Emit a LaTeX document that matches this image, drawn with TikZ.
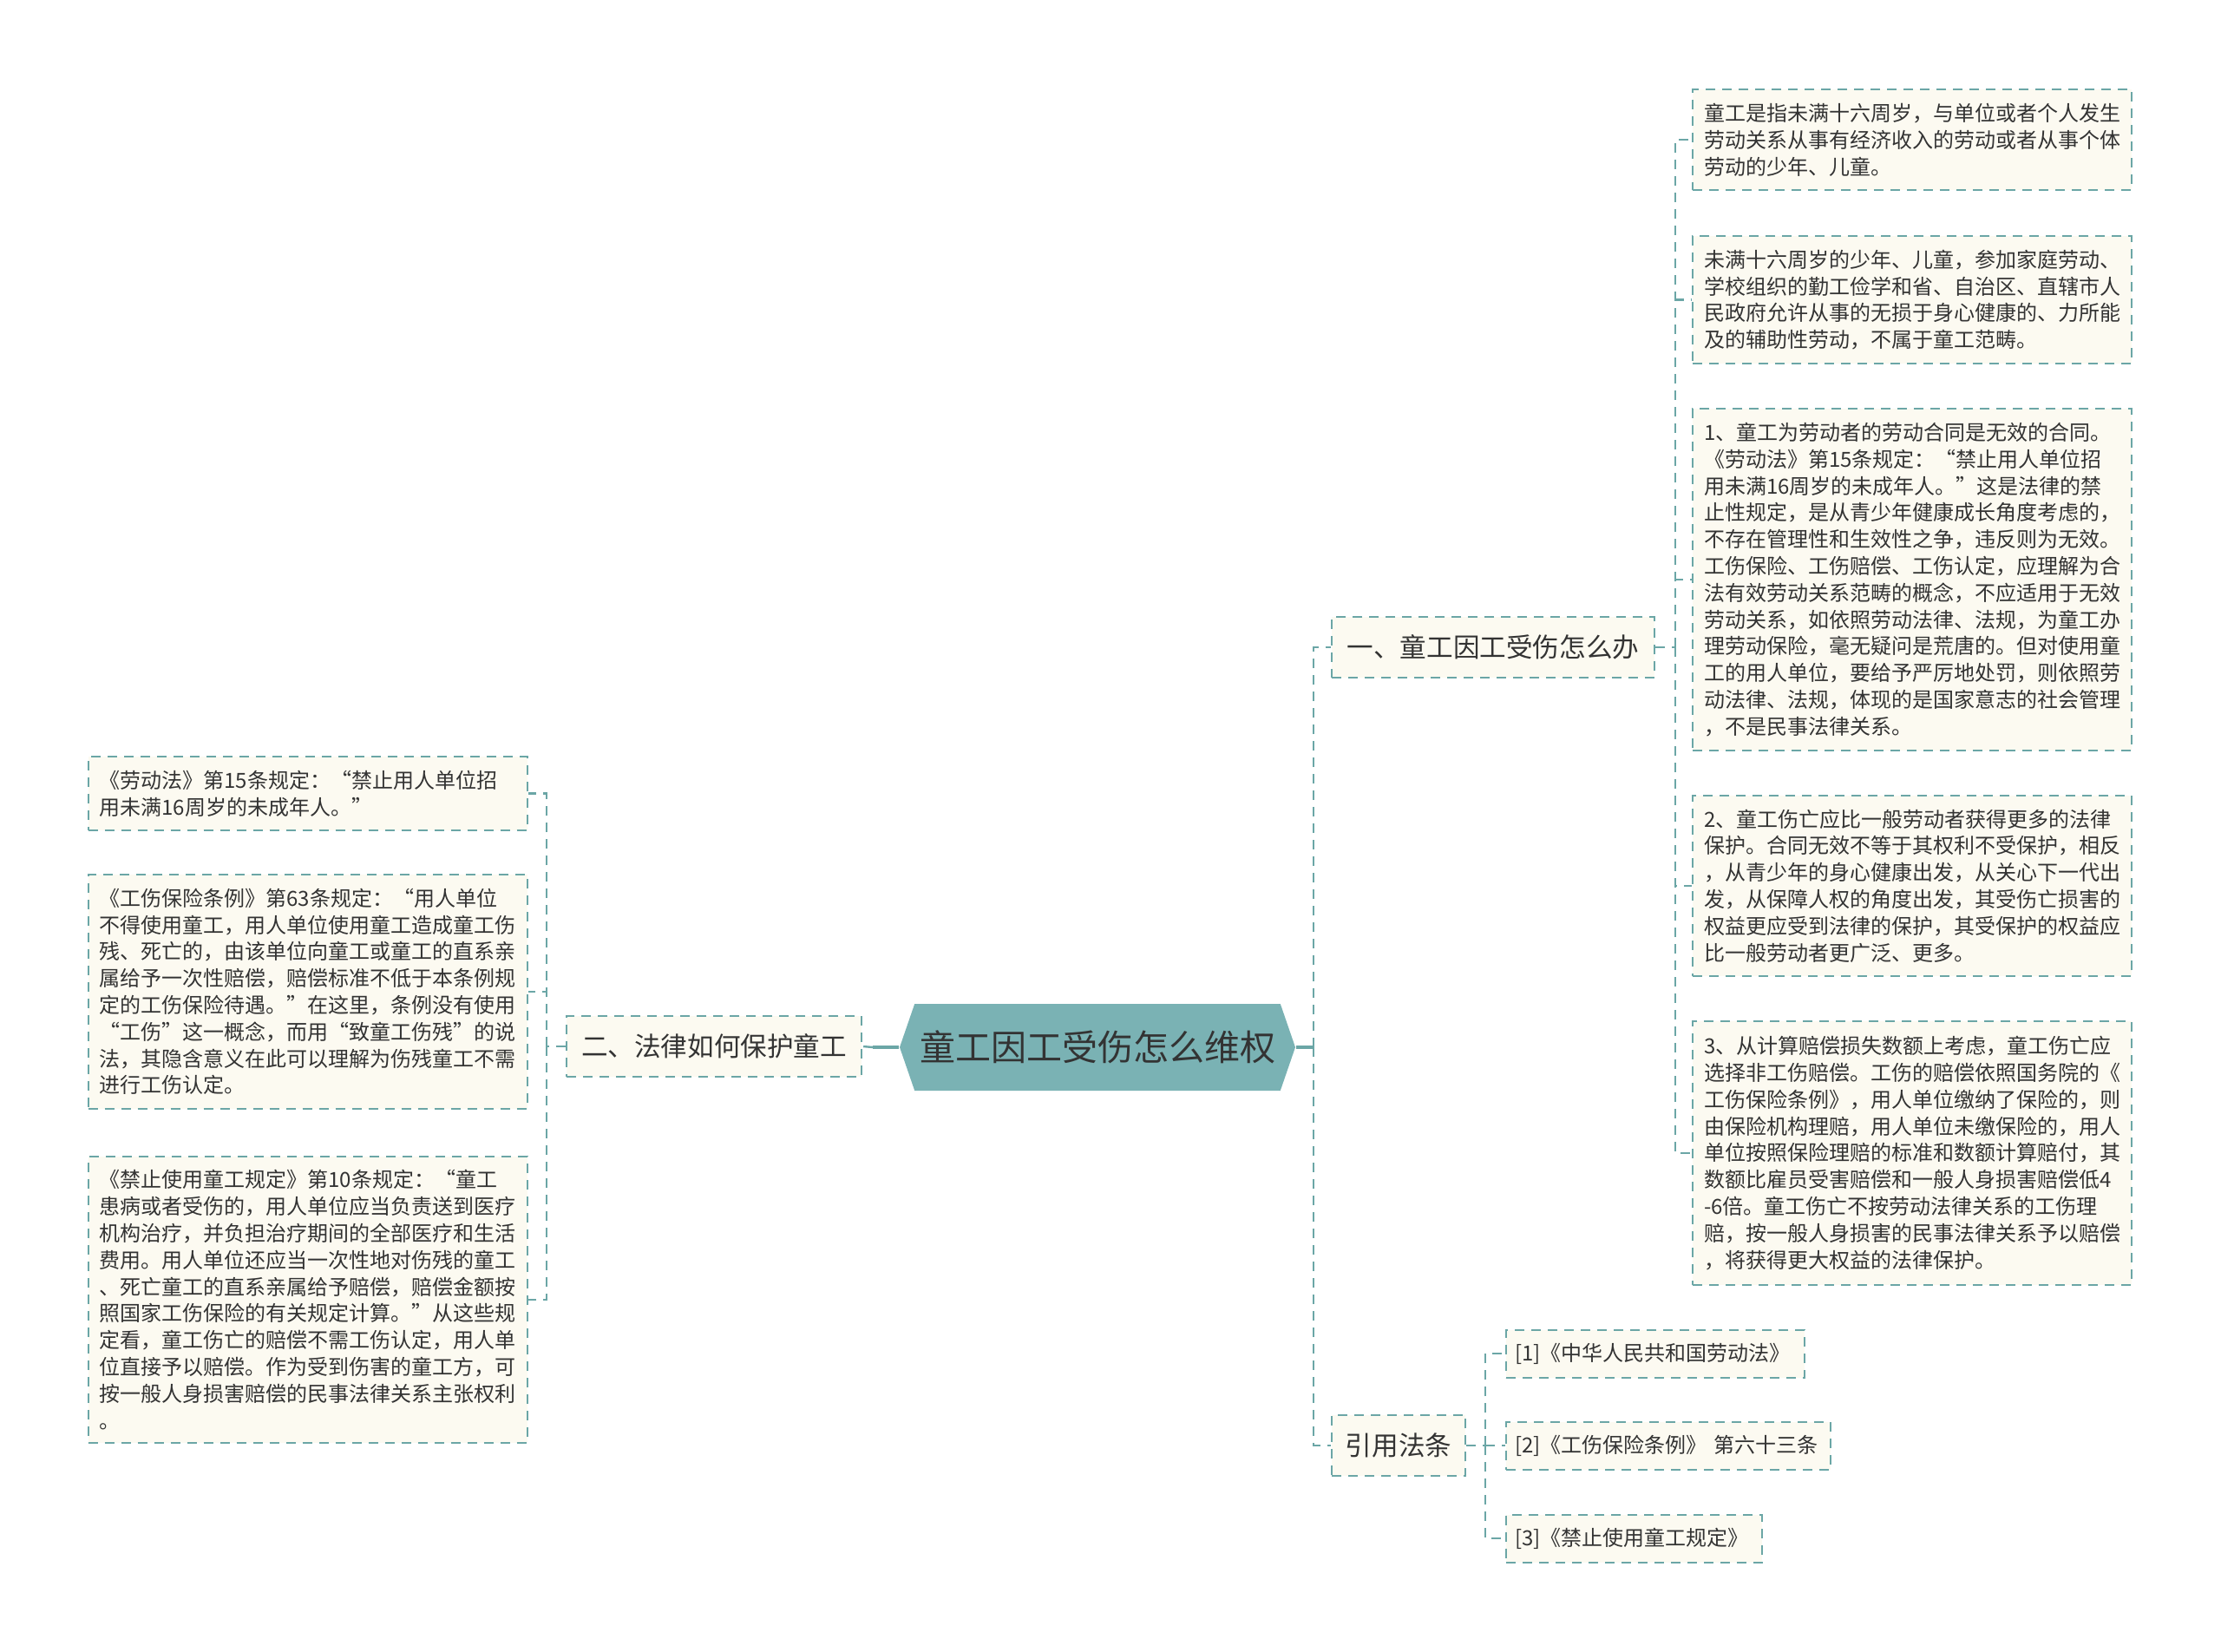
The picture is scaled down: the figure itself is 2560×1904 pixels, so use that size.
\documentclass[tikz,border=0pt]{standalone}
\usepackage{fontspec}
\setmainfont{Noto Sans CJK SC}
\usetikzlibrary{shapes.symbols,positioning}
\definecolor{linecol}{HTML}{6BA6A6}
\definecolor{hexfill}{HTML}{7AB2B4}
\definecolor{cream}{HTML}{FCFAF1}
\definecolor{ink}{HTML}{333333}

\begin{document}
\begin{tikzpicture}[x=0.5pt, y=-0.5pt, thick]
    \tikzstyle{root} = [signal, signal to=west and east, signal pointer angle=142, fill=hexfill, text=ink, minimum width=228pt, minimum height=50pt, inner sep=0pt, font=\fontsize{20.5}{24}\selectfont]
    \tikzstyle{branch} = [rectangle, draw=linecol, line width=1pt, dash pattern=on 5.5pt off 4pt, fill=cream, text=ink, minimum height=35pt, inner xsep=8pt, font=\fontsize{15.3}{18}\selectfont]
    \tikzstyle{leaf} = [rectangle, draw=linecol, line width=1pt, dash pattern=on 5.5pt off 4pt, fill=cream, text=ink, text width=240pt, inner xsep=6.5pt, inner ysep=0pt, align=left, font=\fontsize{12}{15.4}\selectfont]
    \tikzstyle{cite} = [leaf, minimum height=27.5pt, inner xsep=5pt, anchor=west]
    \tikzstyle{link} = [draw=linecol, line width=2pt]
    \tikzstyle{dlink} = [draw=linecol, line width=1.2pt, dash pattern=on 5.5pt off 4pt]

    \fill[white] (0,0) rectangle (2560,1904);

    % centre and first level
    \node [root] (main) at (1265,1207) {童工因工受伤怎么维权};
    \node [branch, minimum width=186pt] (how) at (1721,746) {一、童工因工受伤怎么办};
    \node [branch, minimum width=170pt] (law) at (823,1206) {二、法律如何保护童工};
    \node [branch, minimum width=76pt] (refs) at (1612,1666) {引用法条};

    % right leaves
    \node [leaf, minimum height=58pt] (how1) at (2204,161) {童工是指未满十六周岁，与单位或者个人发生\\劳动关系从事有经济收入的劳动或者从事个体\\劳动的少年、儿童。};
    \node [leaf, minimum height=73.5pt] (how2) at (2204,345.5) {未满十六周岁的少年、儿童，参加家庭劳动、\\学校组织的勤工俭学和省、自治区、直辖市人\\民政府允许从事的无损于身心健康的、力所能\\及的辅助性劳动，不属于童工范畴。};
    \node [leaf, minimum height=197pt] (how3) at (2204,668) {1、童工为劳动者的劳动合同是无效的合同。\\《劳动法》第15条规定：“禁止用人单位招\\用未满16周岁的未成年人。”这是法律的禁\\止性规定，是从青少年健康成长角度考虑的，\\不存在管理性和生效性之争，违反则为无效。\\工伤保险、工伤赔偿、工伤认定，应理解为合\\法有效劳动关系范畴的概念，不应适用于无效\\劳动关系，如依照劳动法律、法规，为童工办\\理劳动保险，毫无疑问是荒唐的。但对使用童\\工的用人单位，要给予严厉地处罚，则依照劳\\动法律、法规，体现的是国家意志的社会管理\\，不是民事法律关系。};
    \node [leaf, minimum height=104pt] (how4) at (2204,1021) {2、童工伤亡应比一般劳动者获得更多的法律\\保护。合同无效不等于其权利不受保护，相反\\，从青少年的身心健康出发，从关心下一代出\\发，从保障人权的角度出发，其受伤亡损害的\\权益更应受到法律的保护，其受保护的权益应\\比一般劳动者更广泛、更多。};
    \node [leaf, minimum height=152pt] (how5) at (2204,1329) {3、从计算赔偿损失数额上考虑，童工伤亡应\\选择非工伤赔偿。工伤的赔偿依照国务院的《\\工伤保险条例》，用人单位缴纳了保险的，则\\由保险机构理赔，用人单位未缴保险的，用人\\单位按照保险理赔的标准和数额计算赔付，其\\数额比雇员受害赔偿和一般人身损害赔偿低4\\-6倍。童工伤亡不按劳动法律关系的工伤理\\赔，按一般人身损害的民事法律关系予以赔偿\\，将获得更大权益的法律保护。};

    % left leaves
    \node [leaf, minimum height=42.5pt] (law1) at (354.5,914.5) {《劳动法》第15条规定：“禁止用人单位招\\用未满16周岁的未成年人。”};
    \node [leaf, minimum height=135pt] (law2) at (354.5,1143) {《工伤保险条例》第63条规定：“用人单位\\不得使用童工，用人单位使用童工造成童工伤\\残、死亡的，由该单位向童工或童工的直系亲\\属给予一次性赔偿，赔偿标准不低于本条例规\\定的工伤保险待遇。”在这里，条例没有使用\\“工伤”这一概念，而用“致童工伤残”的说\\法，其隐含意义在此可以理解为伤残童工不需\\进行工伤认定。};
    \node [leaf, minimum height=165pt] (law3) at (354.5,1498) {《禁止使用童工规定》第10条规定：“童工\\患病或者受伤的，用人单位应当负责送到医疗\\机构治疗，并负担治疗期间的全部医疗和生活\\费用。用人单位还应当一次性地对伤残的童工\\、死亡童工的直系亲属给予赔偿，赔偿金额按\\照国家工伤保险的有关规定计算。”从这些规\\定看，童工伤亡的赔偿不需工伤认定，用人单\\位直接予以赔偿。作为受到伤害的童工方，可\\按一般人身损害赔偿的民事法律关系主张权利\\。};

    % cited laws
    \node [cite, text width=162pt] (refs1) at (1735,1560) {[1]《中华人民共和国劳动法》};
    \node [cite, text width=177pt] (refs2) at (1735,1666) {[2]《工伤保险条例》~第六十三条};
    \node [cite, text width=137.5pt] (refs3) at (1735,1773) {[3]《禁止使用童工规定》};

    % connectors
    \coordinate [right=10pt of main.east] (main-r);
    \coordinate [left=15pt of main.west] (main-l);
    \coordinate [right=11.5pt of how.east] (how-r);
    \coordinate [left=11pt of law.west] (law-l);
    \coordinate [right=11pt of refs.east] (refs-r);

    \draw [link] (main.east) -- (main-r);
    \draw [link] (main.west) -- (main-l);
    \draw [dlink] (main-l) -- (law.east);
    \draw [dlink] (main-r) |- (how.west);
    \draw [dlink] (main-r) |- (refs.west);

    \draw [dlink] (how.east) -- (how-r);
    \foreach \n in {how1,how2,how3,how4,how5}
        \draw [dlink] (how-r) |- (\n.west);

    \draw [dlink] (law.west) -- (law-l);
    \foreach \n in {law1,law2,law3}
        \draw [dlink] (law-l) |- (\n.east);

    \draw [dlink] (refs.east) -- (refs-r);
    \foreach \n in {refs1,refs2,refs3}
        \draw [dlink] (refs-r) |- (\n.west);
\end{tikzpicture}
\end{document}
